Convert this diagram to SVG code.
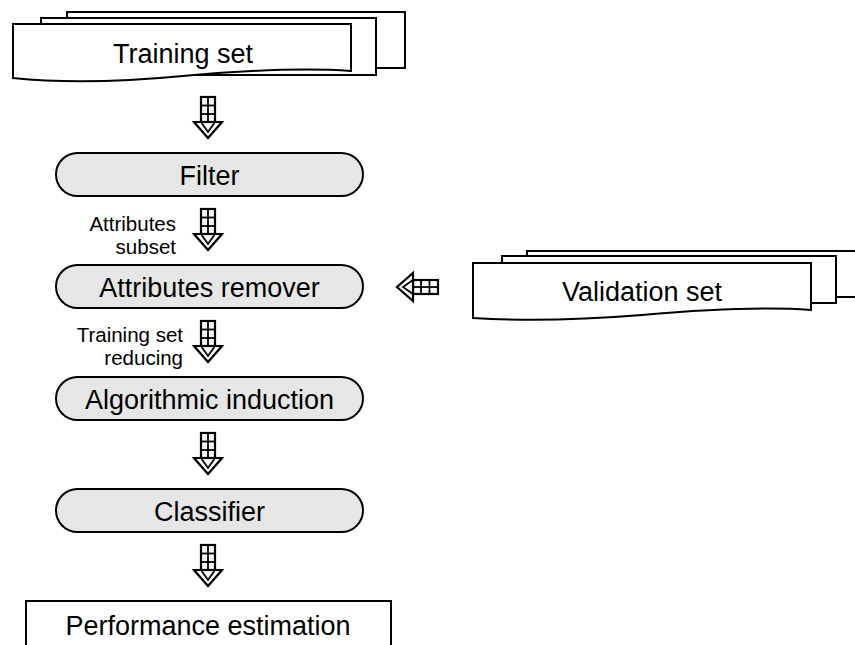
<svg xmlns="http://www.w3.org/2000/svg" width="855" height="645" viewBox="0 0 855 645">
<style>
.doc{fill:#fff;stroke:#000;stroke-width:2}
.pill{fill:#e6e6e6;stroke:#000;stroke-width:2}
.box{fill:#fff;stroke:#000;stroke-width:2}
.big{font-family:"Liberation Sans",Arial,sans-serif;font-size:27px;fill:#000;text-anchor:middle}
.small{font-family:"Liberation Sans",Arial,sans-serif;font-size:20.5px;fill:#000;text-anchor:end}
.ar{fill:#fff;stroke:#000;stroke-width:2.2;stroke-linejoin:miter}
.arl{fill:none;stroke:#000;stroke-width:1.8}
</style>
<defs>
<g id="arrow">
<rect class="ar" x="-7" y="0" width="14" height="25"/>
<line class="arl" x1="0" y1="0" x2="0" y2="25"/>
<line class="arl" x1="-7" y1="8.5" x2="7" y2="8.5"/>
<line class="arl" x1="-7" y1="17" x2="7" y2="17"/>
<polygon class="ar" points="-14,25 14,25 0,41"/>
<polyline class="arl" points="-7,25 0,35 7,25"/>
</g>
</defs>
<rect width="855" height="645" fill="#fff"/>

<g id="training-set">
<rect class="doc" x="67" y="12" width="338" height="56"/>
<rect class="doc" x="41" y="18" width="335" height="57"/>
<path class="doc" d="M13,24 H351 V71 C310,68 250,70 183,76 C120,82 60,83 13,78 Z"/>
<text class="big" x="183" y="63">Training set</text>
</g>

<g id="validation-set">
<rect class="doc" x="527" y="251" width="340" height="46"/>
<rect class="doc" x="502" y="256" width="334" height="47"/>
<path class="doc" d="M473,263 H811 V310 C770,307 710,309 642,315 C580,320 520,321 473,318 Z"/>
<text class="big" x="642" y="301">Validation set</text>
</g>

<g id="filter">
<rect class="pill" x="56" y="153" width="307" height="43" rx="21.5"/>
<text class="big" x="209.5" y="185">Filter</text>
</g>

<g id="attributes-remover">
<rect class="pill" x="56" y="265" width="307" height="43" rx="21.5"/>
<text class="big" x="209.5" y="297">Attributes remover</text>
</g>

<g id="algorithmic-induction">
<rect class="pill" x="56" y="377" width="307" height="43" rx="21.5"/>
<text class="big" x="209.5" y="408.5">Algorithmic induction</text>
</g>

<g id="classifier">
<rect class="pill" x="56" y="489" width="307" height="43" rx="21.5"/>
<text class="big" x="209.5" y="520.5">Classifier</text>
</g>

<g id="performance-estimation">
<rect class="box" x="26" y="601" width="365" height="60"/>
<text class="big" x="208" y="635">Performance estimation</text>
</g>

<g id="connectors">
<use href="#arrow" transform="translate(208,97)"/>
<use href="#arrow" transform="translate(208,209)"/>
<use href="#arrow" transform="translate(208,321)"/>
<use href="#arrow" transform="translate(208,433)"/>
<use href="#arrow" transform="translate(208,545)"/>
<use href="#arrow" transform="translate(438,287) rotate(90)"/>
<text class="small" x="176" y="231">Attributes</text>
<text class="small" x="176" y="254">subset</text>
<text class="small" x="183" y="342">Training set</text>
<text class="small" x="183" y="365">reducing</text>
</g>
</svg>
